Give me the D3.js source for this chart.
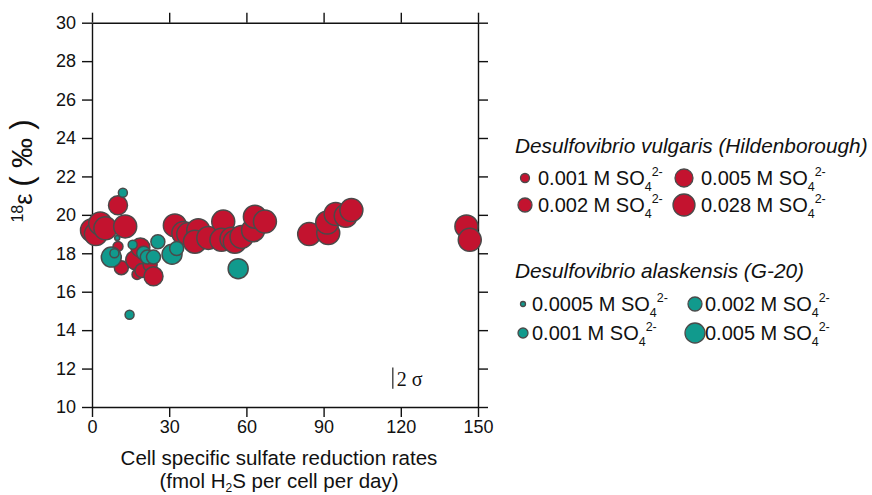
<!DOCTYPE html>
<html lang="en">
<head>
<meta charset="UTF-8">
<title>18O fractionation vs cell specific sulfate reduction rate</title>
<script src="https://cdn.jsdelivr.net/npm/d3@7/dist/d3.min.js"></script>
<style>
    body { margin: 0; background: #fff; }
    svg { font-family: "Liberation Sans", Arial, sans-serif; }
</style>
</head>
<body>
<div id="chart"></div>
<script>
// D. vulgaris (Hildenborough): rate, 18-epsilon, sulfate concentration (M)
var vulgarisRate = [0.0, 1.5, 3.2, 5.2, 12.9, 10.1, 10.1, 11.4, 16.8, 18.8, 17.5, 19.4, 22.6, 23.9,
    32.2, 35.5, 37.4, 41.3, 40.0, 45.2, 51.0, 50.3, 54.2, 55.5, 58.1, 62.6, 63.3, 67.2,
    84.4, 91.8, 91.4, 94.7, 98.6, 100.8, 145.5, 146.8]
var vulgarisEps = [19.2, 19.0, 19.55, 19.3, 19.4, 20.5, 18.35, 17.25, 17.65, 18.3, 16.9, 17.1, 17.4, 16.8,
    19.45, 19.05, 19.0, 19.2, 18.6, 18.8, 19.65, 18.7, 18.75, 18.6, 18.85, 19.2, 19.9, 19.65,
    19.0, 19.05, 19.6, 20.05, 19.95, 20.25, 19.4, 18.7]
var vulgarisConc = [0.028, 0.028, 0.028, 0.028, 0.028, 0.005, 0.001, 0.002, 0.005, 0.005, 0.001, 0.002, 0.002, 0.005,
    0.028, 0.028, 0.028, 0.028, 0.028, 0.028, 0.028, 0.028, 0.028, 0.028, 0.028, 0.028, 0.028, 0.028,
    0.028, 0.028, 0.028, 0.028, 0.028, 0.028, 0.028, 0.028]

// D. alaskensis (G-20)
var alaskensisRate = [12.0, 7.5, 9.8, 8.7, 14.6, 15.8, 20.1, 21.5, 23.9, 25.6, 31.1, 32.9, 56.8]
var alaskensisEps = [21.15, 17.8, 18.8, 18.0, 14.8, 18.45, 18.0, 17.8, 17.8, 18.6, 17.95, 18.25, 17.2]
var alaskensisConc = [0.001, 0.005, 0.0005, 0.001, 0.001, 0.001, 0.002, 0.002, 0.002, 0.002, 0.005, 0.002, 0.005]

var vulgarisLevels = [0.001, 0.002, 0.005, 0.028]
var alaskensisLevels = [0.0005, 0.001, 0.002, 0.005]
var vulgarisLabels = ["0.001", "0.005", "0.002", "0.028"]   // legend reading order
var alaskensisLabels = ["0.0005", "0.002", "0.001", "0.005"]

var xTicks = [0, 30, 60, 90, 120, 150]
var yTicks = [10, 12, 14, 16, 18, 20, 22, 24, 26, 28, 30]

var width = 872, height = 495
var plotL = 92, plotR = 478, plotT = 22.7, plotB = 407
var red = "#c3132f", teal = "#119a8d", edge = "#4a4a4a"

var svg = d3.select("#chart").append("svg")
    .attr("width", width).attr("height", height)

var x = d3.scaleLinear().domain([0, 150]).range([plotL, plotR])
var y = d3.scaleLinear().domain([10, 30]).range([plotB, plotT])

var rVulgaris = d3.scaleOrdinal().domain(vulgarisLevels).range([5, 7, 9.5, 11.5])
var rAlaskensis = d3.scaleOrdinal().domain(alaskensisLevels).range([2.5, 4.5, 7, 10])

// frame with outward ticks on all four sides
function styleAxis(g) {
    g.selectAll("path, line").attr("stroke", "#111").attr("stroke-width", 1.4)
    g.selectAll("text").attr("font-size", 18).attr("fill", "#111").attr("font-family", "Liberation Sans, Arial, sans-serif")
}
svg.append("g").attr("transform", `translate(0,${plotB})`)
    .call(d3.axisBottom(x).tickValues(xTicks).tickSize(10).tickSizeOuter(0).tickPadding(3))
    .call(styleAxis)
svg.append("g").attr("transform", `translate(0,${plotT})`)
    .call(d3.axisTop(x).tickValues(xTicks).tickSize(10).tickSizeOuter(0).tickFormat(""))
    .call(styleAxis)
svg.append("g").attr("transform", `translate(${plotL},0)`)
    .call(d3.axisLeft(y).tickValues(yTicks).tickSize(10).tickSizeOuter(0).tickPadding(6))
    .call(styleAxis)
svg.append("g").attr("transform", `translate(${plotR},0)`)
    .call(d3.axisRight(y).tickValues(yTicks).tickSize(10).tickSizeOuter(0).tickFormat(""))
    .call(styleAxis)

// points
var vData = vulgarisRate.map((d, i) => ({ x: d, y: vulgarisEps[i], c: vulgarisConc[i] }))
var aData = alaskensisRate.map((d, i) => ({ x: d, y: alaskensisEps[i], c: alaskensisConc[i] }))

svg.append("g").selectAll("circle").data(vData).join("circle")
    .attr("cx", d => x(d.x)).attr("cy", d => y(d.y)).attr("r", d => rVulgaris(d.c))
    .attr("fill", red).attr("stroke", edge).attr("stroke-width", 1.5)
svg.append("g").selectAll("circle").data(aData).join("circle")
    .attr("cx", d => x(d.x)).attr("cy", d => y(d.y)).attr("r", d => rAlaskensis(d.c))
    .attr("fill", teal).attr("stroke", edge).attr("stroke-width", 1.5)

// 2 sigma bar
svg.append("line")
    .attr("x1", x(116.9)).attr("x2", x(116.9)).attr("y1", y(12.05)).attr("y2", y(10.95))
    .attr("stroke", "#222").attr("stroke-width", 1.2)
svg.append("text").attr("x", x(116.9) + 4).attr("y", y(10.95) - 3)
    .attr("font-family", "Liberation Serif, Times New Roman, serif").attr("font-size", 20).attr("fill", "#111")
    .text("2 σ")

// axis titles
var xt = svg.append("text").attr("text-anchor", "middle").attr("font-size", 20.5).attr("fill", "#111")
xt.append("tspan").attr("x", 279).attr("y", 465).text("Cell specific sulfate reduction rates")
var l2 = xt.append("tspan").attr("x", 279).attr("y", 488)
l2.append("tspan").text("(fmol H")
l2.append("tspan").attr("font-size", 12).attr("dy", 4).text("2")
l2.append("tspan").attr("dy", -4).text("S per cell per day)")

var yt = svg.append("text").attr("transform", "translate(32,171) rotate(-90)")
    .attr("text-anchor", "middle").attr("fill", "#111").attr("font-size", 25)
yt.append("tspan").attr("font-size", 16).attr("dy", -9).text("18")
yt.append("tspan").attr("dy", 9).text("ε ")
yt.append("tspan").attr("font-size", 31).attr("font-weight", 300).text("(")
yt.append("tspan").attr("font-size", 30).text(" ‰ ")
yt.append("tspan").attr("font-size", 31).attr("font-weight", 300).text(")")

// legends
function sulfate(sel, conc) {
    sel.append("tspan").text(conc + " M SO")
    sel.append("tspan").attr("font-size", 12.5).attr("dy", 6).text("4")
    sel.append("tspan").attr("font-size", 12.5).attr("dy", -15).text("2-")
}
function legend(title, ty, labels, rScale, color, rows, circleX, textX) {
    svg.append("text").attr("x", 515).attr("y", ty).attr("font-size", 20.8).attr("font-style", "italic")
        .attr("fill", "#111").text(title)
    labels.forEach((lab, i) => {
        var col = i % 2, row = Math.floor(i / 2)
        var cy = rows[row]
        svg.append("circle").attr("cx", circleX[col]).attr("cy", cy).attr("r", rScale(+lab))
            .attr("fill", color).attr("stroke", edge).attr("stroke-width", 1.3)
        var t = svg.append("text").attr("x", textX[col]).attr("y", cy + 7).attr("font-size", 20).attr("fill", "#111")
        sulfate(t, lab)
    })
}
legend("Desulfovibrio vulgaris (Hildenborough)", 153, vulgarisLabels,
    d3.scaleOrdinal().domain(vulgarisLevels).range([4.5, 7, 9, 11]), red, [178, 205], [525, 684], [538, 701])
legend("Desulfovibrio alaskensis (G-20)", 278, alaskensisLabels,
    d3.scaleOrdinal().domain(alaskensisLevels).range([2.5, 5, 7, 10]), teal, [304, 333], [523, 695], [532, 705])
</script>
</body>
</html>
